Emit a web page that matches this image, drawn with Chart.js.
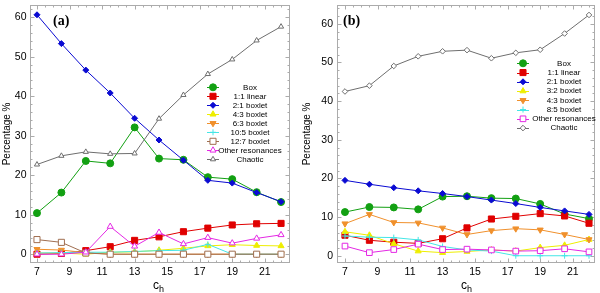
<!DOCTYPE html>
<html><head><meta charset="utf-8">
<script src="https://cdn.jsdelivr.net/npm/chart.js@4.4.0/dist/chart.umd.min.js"></script>
<style>
html,body{margin:0;padding:0;background:#fff;}
#wrap{position:relative;width:600px;height:293px;overflow:hidden;}
.pane{position:absolute;top:0;width:300px;height:293px;}
canvas{display:block;}
</style></head><body>
<div id="wrap">
<div class="pane" style="left:0"><canvas id="ca" width="300" height="293"></canvas></div>
<div class="pane" style="left:300px"><canvas id="cb" width="300" height="293"></canvas></div>
</div>
<script>
// ---------- data ----------
const cValues = [7, 8.5, 10, 11.5, 13, 14.5, 16, 17.5, 19, 20.5, 22];
const xTickValues = [7, 9, 11, 13, 15, 17, 19, 21];
const yTickValues = [0, 10, 20, 30, 40, 50, 60];

// panel (a)
const aLabels = ['Box', '1:1 linear', '2:1 boxlet', '4:3 boxlet', '6:3 boxlet', '10:5 boxlet', '12:7 boxlet', 'Other resonances', 'Chaotic'];
const aBox      = [10.4, 15.6, 23.6, 23.0, 32.1, 24.2, 23.9, 19.5, 19.0, 15.7, 13.2];
const aLin11    = [0.0, 0.2, 0.9, 1.9, 3.5, 4.4, 5.7, 6.6, 7.4, 7.7, 7.8];
const aBoxlet21 = [60.6, 53.3, 46.6, 40.8, 34.4, 28.9, 23.8, 18.7, 18.0, 15.6, 13.3];
const aBoxlet43 = [0.3, 0.3, 0.0, 0.5, 0.6, 1.0, 1.5, 2.1, 2.4, 2.2, 2.1];
const aBoxlet63 = [1.25, 1.05, 0.4, 0, 0, 0, 0, 0, 0, 0, 0];
const aBoxlet105= [0.3, 0.4, 0.5, 0.5, 0.7, 0.9, 1.0, 2.5, 0, 0, 0];
const aBoxlet127= [3.7, 3.0, 0.3, 0, 0, 0, 0, 0, 0, 0, 0];
const aOther    = [0.0, 0.0, 0.5, 7.0, 2.0, 5.5, 2.6, 4.2, 2.8, 4.0, 4.9];
const aChaotic  = [22.7, 24.9, 25.9, 25.4, 25.5, 34.3, 40.3, 45.6, 49.3, 54.1, 57.6];

// panel (b)
const bLabels = ['Box', '1:1 linear', '2:1 boxlet', '3:2 boxlet', '4:3 boxlet', '8:5 boxlet', 'Other resonances', 'Chaotic'];
const bBox      = [11.3, 12.6, 12.5, 12.0, 15.3, 15.4, 14.9, 14.8, 13.4, 10.8, 9.6];
const bLin11    = [5.3, 4.0, 3.5, 3.2, 4.4, 7.2, 9.5, 10.2, 10.9, 10.3, 8.4];
const bBoxlet21 = [19.5, 18.5, 17.6, 16.8, 16.1, 15.3, 14.4, 13.5, 12.5, 11.6, 10.7];
const bBoxlet32 = [6.2, 5.3, 3.1, 1.2, 0.8, 1.1, 1.5, 1.2, 2.1, 2.7, 4.2];
const bBoxlet43 = [8.3, 10.7, 8.6, 8.5, 7.2, 5.5, 6.5, 7.0, 6.7, 5.5, 4.2];
const bBoxlet85 = [5.1, 4.8, 4.7, 4.1, 2.4, 1.5, 1.2, 0, 0, 0, 0];
const bOther    = [2.5, 0.8, 1.6, 3.0, 1.6, 1.7, 1.5, 1.2, 1.3, 1.8, 1.0];
const bChaotic  = [42.5, 44.0, 49.1, 51.6, 52.9, 53.2, 51.1, 52.5, 53.3, 57.5, 62.3];

// ---------- styles ----------
const GREEN = '#12a012', RED = '#e00000', BLUE = '#0a0ad2', YELLOW = '#eeee00',
      ORANGE = '#f0902c', CYAN = '#44e6e6', BROWN = '#a06e50', MAGENTA = '#e428e4', GRAY = '#6e6e6e';

function mk(label, data, color, style, r, open, rot, idx) {
  return {
    label, data: data.map((v, i) => ({x: cValues[i], y: v})),
    borderColor: color, backgroundColor: open ? '#ffffff' : color,
    pointBorderColor: color, pointBackgroundColor: open ? '#ffffff' : color,
    pointStyle: style, pointRadius: r, pointHoverRadius: r, pointRotation: rot || 0,
    pointBorderWidth: 1, borderWidth: 1, tension: 0, fill: false, order: -idx
  };
}

const aSets = [
  mk(aLabels[0], aBox, GREEN, 'circle', 3.5, false, 0, 0),
  mk(aLabels[1], aLin11, RED, 'rect', 4.3, false, 0, 1),
  mk(aLabels[2], aBoxlet21, BLUE, 'rectRot', 3, false, 0, 2),
  mk(aLabels[3], aBoxlet43, YELLOW, 'triangle', 3.5, false, 0, 3),
  mk(aLabels[4], aBoxlet63, ORANGE, 'triangle', 3.5, false, 180, 4),
  mk(aLabels[5], aBoxlet105, CYAN, 'cross', 3, false, 0, 5),
  mk(aLabels[6], aBoxlet127, BROWN, 'rect', 4.3, true, 0, 6),
  mk(aLabels[7], aOther, MAGENTA, 'triangle', 3.5, true, 0, 7),
  mk(aLabels[8], aChaotic, GRAY, 'triangle', 3, true, 0, 8)
];
const bSets = [
  mk(bLabels[0], bBox, GREEN, 'circle', 3.5, false, 0, 0),
  mk(bLabels[1], bLin11, RED, 'rect', 4.3, false, 0, 1),
  mk(bLabels[2], bBoxlet21, BLUE, 'rectRot', 3, false, 0, 2),
  mk(bLabels[3], bBoxlet32, YELLOW, 'triangle', 3.5, false, 0, 3),
  mk(bLabels[4], bBoxlet43, ORANGE, 'triangle', 3.5, false, 180, 4),
  mk(bLabels[5], bBoxlet85, CYAN, 'cross', 3, false, 0, 5),
  mk(bLabels[6], bOther, MAGENTA, 'rect', 4, true, 0, 6),
  mk(bLabels[7], bChaotic, GRAY, 'rectRot', 2.8, true, 0, 7)
];

// ---------- marker drawing for legend ----------
function drawMarker(ctx, ds, x, y) {
  const r = ds.pointRadius, rot = (ds.pointRotation || 0) * Math.PI / 180;
  ctx.save();
  ctx.translate(x, y); ctx.rotate(rot);
  ctx.beginPath();
  let fillIt = true;
  switch (ds.pointStyle) {
    case 'circle': ctx.arc(0, 0, r, 0, Math.PI * 2); break;
    case 'rect': { const s = r * Math.SQRT1_2; ctx.rect(-s, -s, 2 * s, 2 * s); break; }
    case 'rectRot': ctx.moveTo(0, -r); ctx.lineTo(r, 0); ctx.lineTo(0, r); ctx.lineTo(-r, 0); ctx.closePath(); break;
    case 'triangle': {
      for (let k = 0; k < 3; k++) {
        const a = k * 2 * Math.PI / 3;
        const px = Math.sin(a) * r, py = -Math.cos(a) * r;
        k ? ctx.lineTo(px, py) : ctx.moveTo(px, py);
      }
      ctx.closePath(); break;
    }
    case 'cross': ctx.moveTo(0, -r); ctx.lineTo(0, r); ctx.moveTo(-r, 0); ctx.lineTo(r, 0); fillIt = false; break;
  }
  ctx.fillStyle = ds.pointBackgroundColor; ctx.strokeStyle = ds.pointBorderColor; ctx.lineWidth = 1;
  if (fillIt) ctx.fill();
  ctx.stroke();
  ctx.restore();
}

// ---------- frame / ticks / legend / labels plugin ----------
const decoPlugin = {
  id: 'deco',
  beforeDatasetsDraw(chart, args, o) {
    const {ctx, chartArea: ca, scales: {x, y}} = chart;
    ctx.save();
    ctx.strokeStyle = '#ababab'; ctx.lineWidth = 1;
    const L = Math.round(ca.left) + 0.5, R = Math.round(ca.right) - 0.5,
          T = Math.round(ca.top) + 0.5, B = Math.round(ca.bottom) - 0.5;
    ctx.strokeRect(L, T, R - L, B - T);
    ctx.beginPath();
    for (let v = 6.5; v <= 22.6; v += 0.5) {
      const px = Math.round(x.getPixelForValue(v)) + 0.5;
      if (px <= L || px >= R) continue;
      const major = Math.abs((v - 7) / 2 - Math.round((v - 7) / 2)) < 1e-6;
      const len = major ? 4 : 2;
      ctx.moveTo(px, B); ctx.lineTo(px, B - len);
      ctx.moveTo(px, T); ctx.lineTo(px, T + len);
    }
    for (let v = -2; v <= 66; v += 2) {
      const py = Math.round(y.getPixelForValue(v)) + 0.5;
      if (py <= T || py >= B) continue;
      const major = v % 10 === 0;
      const len = major ? 4 : 2;
      ctx.moveTo(L, py); ctx.lineTo(L + len, py);
      ctx.moveTo(R, py); ctx.lineTo(R - len, py);
    }
    ctx.stroke();
    ctx.restore();
  },
  afterDraw(chart, args, o) {
    const {ctx} = chart;
    ctx.save();
    const dsets = chart.data.datasets;
    ctx.font = '8px "Liberation Sans", Arial, sans-serif';
    ctx.textAlign = 'center'; ctx.textBaseline = 'middle'; ctx.fillStyle = '#000';
    dsets.forEach((ds, i) => {
      const yy = o.legY + i * o.legDy;
      ctx.strokeStyle = ds.borderColor; ctx.lineWidth = 1;
      ctx.beginPath(); ctx.moveTo(o.legX - 6, Math.round(yy) + 0.5); ctx.lineTo(o.legX + 6, Math.round(yy) + 0.5); ctx.stroke();
      drawMarker(ctx, ds, o.legX, yy);
      ctx.fillStyle = '#000';
      ctx.fillText(ds.label, o.legTextX, yy);
    });
    ctx.font = 'bold 14px "Liberation Serif", "Times New Roman", serif';
    ctx.textAlign = 'left'; ctx.textBaseline = 'middle';
    ctx.fillText(o.panel, o.panelX, o.panelY);
    ctx.font = '12px "Liberation Sans", Arial, sans-serif';
    ctx.textBaseline = 'alphabetic';
    const cw = ctx.measureText('c').width;
    ctx.fillText('c', o.cX - cw / 2 - 2, 289);
    ctx.font = '9px "Liberation Sans", Arial, sans-serif';
    ctx.fillText('h', o.cX + cw / 2 - 2, 292);
    ctx.restore();
  }
};

function makeChart(id, datasets, cfg) {
  return new Chart(document.getElementById(id), {
    type: 'line',
    data: {datasets},
    plugins: [decoPlugin],
    options: {
      responsive: false, animation: false, devicePixelRatio: 1,
      layout: {padding: {top: 2, right: cfg.padRight, left: 0, bottom: 0}},
      plugins: {
        legend: {display: false}, tooltip: {enabled: false},
        deco: cfg.deco
      },
      scales: {
        x: {
          type: 'linear', min: cfg.xMin, max: cfg.xMax,
          afterBuildTicks: s => { s.ticks = xTickValues.map(v => ({value: v})); },
          afterFit: s => { s.height = 30.5; s.paddingLeft = 0; s.paddingRight = 0; },
          grid: {display: false, drawTicks: false},
          border: {display: false},
          ticks: {color: '#000', font: {size: 10.5, family: '"Liberation Sans", Arial, sans-serif'}, padding: 3, maxRotation: 0, autoSkip: false}
        },
        y: {
          type: 'linear', min: cfg.yMin, max: cfg.yMax,
          afterBuildTicks: s => { s.ticks = yTickValues.map(v => ({value: v})); },
          afterFit: s => { s.width = cfg.yWidth; s.paddingTop = 0; s.paddingBottom = 0; },
          grid: {display: false, drawTicks: false},
          border: {display: false},
          ticks: {color: '#000', font: {size: 10.5, family: '"Liberation Sans", Arial, sans-serif'}, padding: cfg.yPad, autoSkip: false},
          title: {display: true, text: 'Percentage %', color: '#000',
                  font: {size: 10, family: '"Liberation Sans", Arial, sans-serif'}, padding: {top: 1, bottom: 0}}
        }
      }
    }
  });
}

makeChart('ca', aSets, {
  padRight: 10, xMin: 6.54, xMax: 22.55, yMin: -2.1, yMax: 63, yWidth: 29.5, yPad: 3,
  deco: {legX: 213, legTextX: 250, legY: 87.3, legDy: 9.0, panel: '(a)', panelX: 53, panelY: 21, cX: 158}
});
makeChart('cb', bSets, {
  padRight: 5, xMin: 6.51, xMax: 22.35, yMin: -1.75, yMax: 64.8, yWidth: 37, yPad: 4,
  deco: {legX: 223, legTextX: 264, legY: 63.3, legDy: 9.25, panel: '(b)', panelX: 43, panelY: 21, cX: 166}
});
</script>
</body></html>
